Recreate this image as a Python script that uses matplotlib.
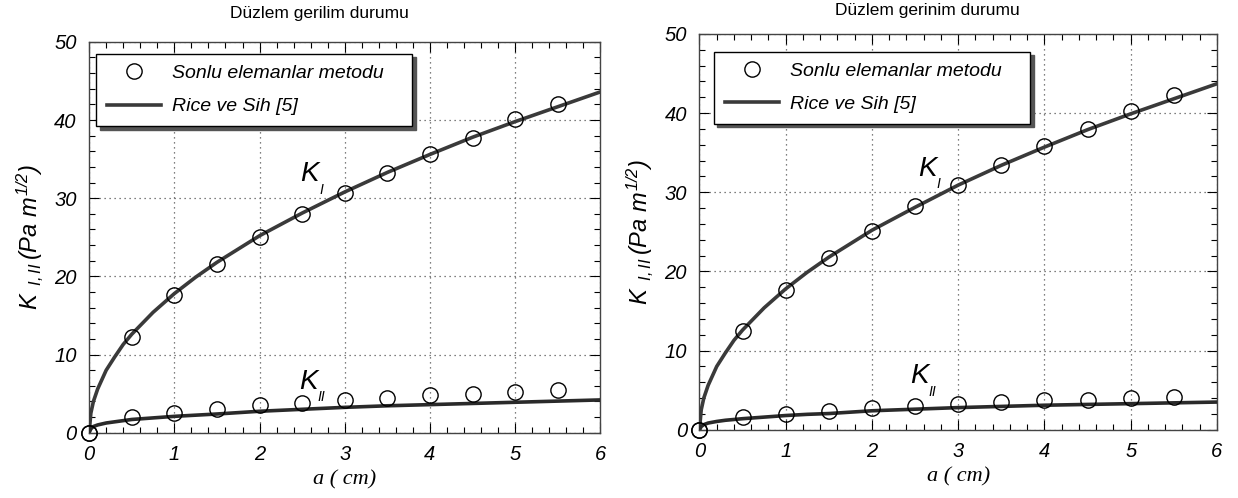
import numpy as np
import matplotlib
matplotlib.use("Agg")
import matplotlib.pyplot as plt
from matplotlib.ticker import MultipleLocator

plt.rcParams['font.family'] = ['Liberation Sans', 'DejaVu Sans']
plt.rcParams['mathtext.fontset'] = 'custom'
plt.rcParams['mathtext.it'] = 'Liberation Sans:italic'
plt.rcParams['mathtext.rm'] = 'Liberation Sans:italic'

# sonlu elemanlar noktalari (a, cm)
a_fem = [0, 0.5, 1, 1.5, 2, 2.5, 3, 3.5, 4, 4.5, 5, 5.5]
k1_fem_gerilim = [0, 12.3, 17.6, 21.6, 25.0, 28.0, 30.7, 33.2, 35.6, 37.7, 40.1, 42.1]
k2_fem_gerilim = [0, 2.0, 2.5, 3.0, 3.5, 3.8, 4.2, 4.5, 4.8, 5.0, 5.2, 5.5]
k1_fem_gerinim = [0, 12.5, 17.6, 21.7, 25.1, 28.2, 30.9, 33.5, 35.8, 38.0, 40.3, 42.3]
k2_fem_gerinim = [0, 1.6, 2.0, 2.4, 2.7, 3.0, 3.3, 3.5, 3.7, 3.8, 4.0, 4.2]

# Rice ve Sih egrileri
a_rs = [0, 0.02, 0.05, 0.1, 0.2, 0.3, 0.4, 0.5, 0.75, 1, 1.25, 1.5, 2, 2.5, 3, 3.5, 4, 4.5, 5, 5.5, 6]
k1_rs_gerilim = [0, 2.5, 4.0, 5.6, 8.0, 9.7, 11.3, 12.6, 15.4, 17.8, 19.9, 21.8, 25.2, 28.1, 30.8,
                 33.3, 35.6, 37.8, 39.8, 41.7, 43.6]
k2_rs_gerilim = [0, 0.5, 0.8, 1.0, 1.25, 1.4, 1.55, 1.7, 1.9, 2.1, 2.25, 2.4, 2.75, 3.0, 3.25,
                 3.45, 3.6, 3.75, 3.9, 4.05, 4.2]
k1_rs_gerinim = [0, 2.5, 4.0, 5.6, 8.0, 9.7, 11.3, 12.6, 15.4, 17.8, 19.9, 21.8, 25.2, 28.1, 30.9,
                 33.4, 35.7, 37.9, 39.9, 41.8, 43.7]
k2_rs_gerinim = [0, 0.4, 0.65, 0.85, 1.05, 1.2, 1.3, 1.4, 1.6, 1.8, 1.95, 2.05, 2.4, 2.6, 2.8,
                 2.95, 3.1, 3.2, 3.3, 3.4, 3.5]

titles = ["Düzlem gerilim durumu", "Düzlem gerinim durumu"]


def etiket(ax, pos, alt):
    # K harfi ve altindisi ayri ayri
    ax.text(pos[0], pos[1], "K", fontsize=20, style="italic", zorder=5)
    ax.annotate(alt, xy=pos, xytext=(13.5, -9), textcoords="offset points",
                fontsize=10, style="italic", zorder=5)


def ciz(ax, k1_fem, k2_fem, k1_rs, k2_rs, title, k1_pos, k2_pos, title_x, title_pad, leg_box):
    ax.plot(a_rs, k1_rs, color="#3a3a3a", lw=2.6, solid_capstyle="round", zorder=3)
    ax.plot(a_rs, k2_rs, color="#2a2a2a", lw=2.6, solid_capstyle="round", zorder=3)
    ax.plot(a_fem, k1_fem, "o", ms=11, mfc="none", mec="black", mew=1.0, zorder=4,
            label="Sonlu elemanlar metodu", clip_on=False)
    ax.plot(a_fem, k2_fem, "o", ms=11, mfc="none", mec="black", mew=1.0, zorder=4, clip_on=False)
    ax.plot([], [], color="#3a3a3a", lw=2.6, label="Rice ve Sih [5]")

    ax.set_xlim(0, 6)
    ax.set_ylim(0, 50)
    ax.xaxis.set_major_locator(MultipleLocator(1))
    ax.xaxis.set_minor_locator(MultipleLocator(0.2))
    ax.yaxis.set_major_locator(MultipleLocator(10))
    ax.yaxis.set_minor_locator(MultipleLocator(2))
    ax.tick_params(which="both", direction="in", top=True, right=True, labelsize=14.5, pad=9)
    ax.tick_params(which="major", length=7, width=0.8)
    ax.tick_params(which="minor", length=4, width=0.8)
    for lab in ax.get_xticklabels() + ax.get_yticklabels():
        lab.set_fontstyle("italic")
    ax.grid(True, which="major", linestyle=(0, (1, 3)), color="#555555", lw=0.9)
    for s in ax.spines.values():
        s.set_color("#444444")
        s.set_linewidth(1.0)

    ax.set_title(title, fontsize=12.5, x=title_x, pad=title_pad)
    ax.set_xlabel("a ( cm)", fontsize=16, family="Liberation Serif", style="italic", labelpad=4)
    ax.set_ylabel(r"$K_{\ \ I,II}\,(Pa\ m^{1/2})$", fontsize=17, labelpad=6)

    etiket(ax, k1_pos, "I")
    etiket(ax, k2_pos, "II")

    leg = ax.legend(loc="upper left", bbox_to_anchor=leg_box, mode="expand", fontsize=14,
                    fancybox=False, shadow={"color": "#555555", "alpha": 1.0, "ox": 2.5, "oy": -2.5},
                    edgecolor="black", framealpha=1, borderpad=0.55, labelspacing=0.8,
                    handlelength=2.8, handletextpad=0.57, borderaxespad=0)
    leg.get_frame().set_linewidth(1.0)
    for t in leg.get_texts():
        t.set_fontstyle("italic")
    leg.set_zorder(6)


fig = plt.figure(figsize=(12.38, 4.98), dpi=100)
ax1 = fig.add_axes([0.072, 0.131, 0.413, 0.785])
ax2 = fig.add_axes([0.565, 0.137, 0.418, 0.795])

ciz(ax1, k1_fem_gerilim, k2_fem_gerilim, k1_rs_gerilim, k2_rs_gerilim, titles[0],
    (2.48, 32.2), (2.46, 5.6), 0.45, 17.5, (0.0137, 0.0, 0.618, 0.969))
ciz(ax2, k1_fem_gerinim, k2_fem_gerinim, k1_rs_gerinim, k2_rs_gerinim, titles[1],
    (2.53, 32.1), (2.44, 5.9), 0.44, 13.5, (0.028, 0.0, 0.611, 0.955))

fig.savefig("out.png", dpi=100)
